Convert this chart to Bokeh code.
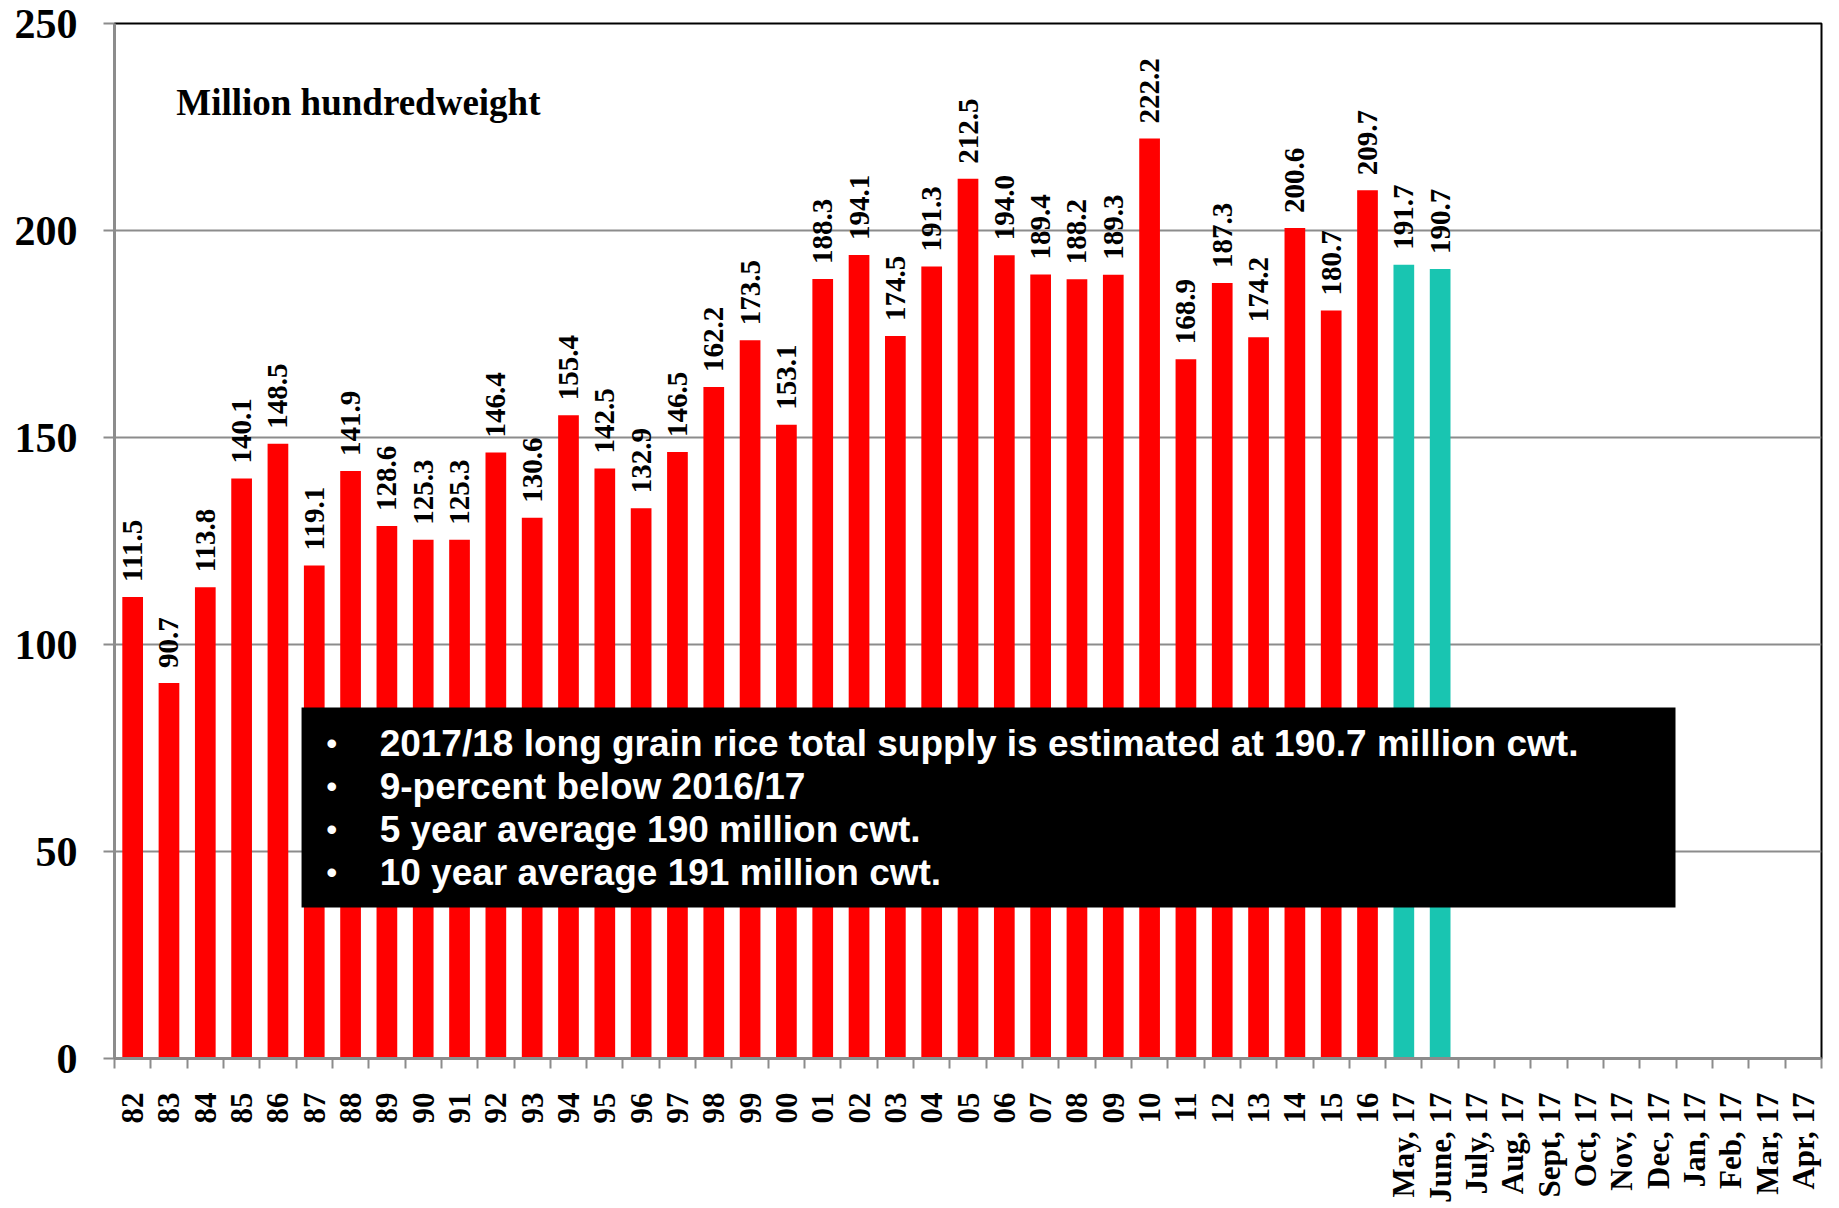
import math
from bokeh.plotting import figure
from bokeh.models import (ColumnDataSource, FixedTicker, CustomJSTickFormatter,
                          Label, BoxAnnotation, Range1d)
from bokeh.core.properties import value
from bokeh.embed import file_html
from bokeh.resources import INLINE

# ---------------- data ----------------
years = ["82", "83", "84", "85", "86", "87", "88", "89", "90", "91", "92", "93",
         "94", "95", "96", "97", "98", "99", "00", "01", "02", "03", "04", "05",
         "06", "07", "08", "09", "10", "11", "12", "13", "14", "15", "16"]
annual_supply = [111.5, 90.7, 113.8, 140.1, 148.5, 119.1, 141.9, 128.6, 125.3, 125.3,
                 146.4, 130.6, 155.4, 142.5, 132.9, 146.5, 162.2, 173.5, 153.1, 188.3,
                 194.1, 174.5, 191.3, 212.5, 194.0, 189.4, 188.2, 189.3, 222.2, 168.9,
                 187.3, 174.2, 200.6, 180.7, 209.7]
months = ["May, 17", "June, 17", "July, 17", "Aug, 17", "Sept, 17", "Oct, 17",
          "Nov, 17", "Dec, 17", "Jan, 17", "Feb, 17", "Mar, 17", "Apr, 17"]
monthly_supply = [191.7, 190.7]
y_ticks = [0, 50, 100, 150, 200, 250]
unit_note = "Million hundredweight"
notes = ["2017/18 long grain rice total supply is estimated at 190.7 million cwt.",
         "9-percent below 2016/17",
         "5 year average 190 million cwt.",
         "10 year average 191 million cwt."]

# ---------------- build ----------------
categories = years + months
n = len(categories)

annual_src = ColumnDataSource(dict(
    x=[i + 0.5 for i in range(len(years))],
    top=annual_supply,
    label=[f"{v:.1f}" for v in annual_supply]))
monthly_src = ColumnDataSource(dict(
    x=[len(years) + i + 0.5 for i in range(len(monthly_supply))],
    top=monthly_supply,
    label=[f"{v:.1f}" for v in monthly_supply]))

p = figure(width=1839, height=1208, output_backend="svg", toolbar_location=None,
           x_range=Range1d(0, n), y_range=Range1d(0, 250),
           min_border_left=114, min_border_right=18, min_border_top=23,
           min_border_bottom=150)
p.background_fill_color = "white"
p.border_fill_color = "white"
p.outline_line_color = "black"
p.outline_line_width = 2

SERIF = value("Liberation Serif")

for src, color in [(annual_src, "#FF0000"), (monthly_src, "#19C5B1")]:
    p.vbar(x="x", top="top", width=0.57, source=src, fill_color=color, line_color=None)
    p.text(x="x", y="top", text="label", source=src, angle=math.pi / 2,
           text_align="left", text_baseline="middle", y_offset=-15,
           text_font=SERIF, text_font_style="bold", text_font_size="29px",
           text_color="black")

# x axis
p.xaxis.ticker = FixedTicker(ticks=[i + 0.5 for i in range(n)],
                             minor_ticks=list(range(n + 1)))
p.xaxis.formatter = CustomJSTickFormatter(
    args=dict(labels=categories),
    code="const i = Math.floor(tick); return (i >= 0 && i < labels.length) ? labels[i] : '';")
p.xaxis.major_label_orientation = math.pi / 2
p.xaxis.major_tick_out = 0
p.xaxis.major_tick_in = 0
p.xaxis.minor_tick_out = 10
p.xaxis.minor_tick_in = 0
p.xaxis.minor_tick_line_color = "#8c8c8c"
p.xaxis.minor_tick_line_width = 2
p.xaxis.axis_line_color = "#8c8c8c"
p.xaxis.axis_line_width = 3
p.xaxis.major_label_standoff = 24
p.xaxis.major_label_text_font = "Liberation Serif"
p.xaxis.major_label_text_font_style = "bold"
p.xaxis.major_label_text_font_size = "31px"
p.xaxis.major_label_text_color = "black"

# y axis
p.yaxis.ticker = FixedTicker(ticks=y_ticks)
p.yaxis.minor_tick_line_color = None
p.yaxis.major_tick_out = 11
p.yaxis.major_tick_in = 0
p.yaxis.major_tick_line_color = "#8c8c8c"
p.yaxis.major_tick_line_width = 2
p.yaxis.axis_line_color = "#8c8c8c"
p.yaxis.axis_line_width = 3
p.yaxis.major_label_standoff = 26
p.yaxis.major_label_text_font = "Liberation Serif"
p.yaxis.major_label_text_font_style = "bold"
p.yaxis.major_label_text_font_size = "42px"
p.yaxis.major_label_text_color = "black"

p.xgrid.visible = False
p.ygrid.ticker = FixedTicker(ticks=y_ticks)
p.ygrid.grid_line_color = "#8c8c8c"
p.ygrid.grid_line_width = 2

# unit note
p.add_layout(Label(x=1.70, y=231, text=unit_note, text_baseline="middle",
                   text_font="Liberation Serif", text_font_style="bold",
                   text_font_size="37px", text_color="black"))

# black annotation box with notes
p.add_layout(BoxAnnotation(left=5.15, right=42.98, bottom=36.5, top=84.8,
                           fill_color="black", fill_alpha=1.0, line_color=None))
note_y = [76.1, 65.7, 55.3, 44.9]
for yy, t in zip(note_y, notes):
    p.add_layout(Label(x=5.84, y=yy, text="\u2022", text_baseline="middle",
                       text_font="Liberation Sans", text_font_style="bold",
                       text_font_size="30px", text_color="white"))
    p.add_layout(Label(x=7.30, y=yy, text=t, text_baseline="middle",
                       text_font="Liberation Sans", text_font_style="bold",
                       text_font_size="37px", text_color="white"))

open("out.html", "w").write(file_html(p, INLINE))
